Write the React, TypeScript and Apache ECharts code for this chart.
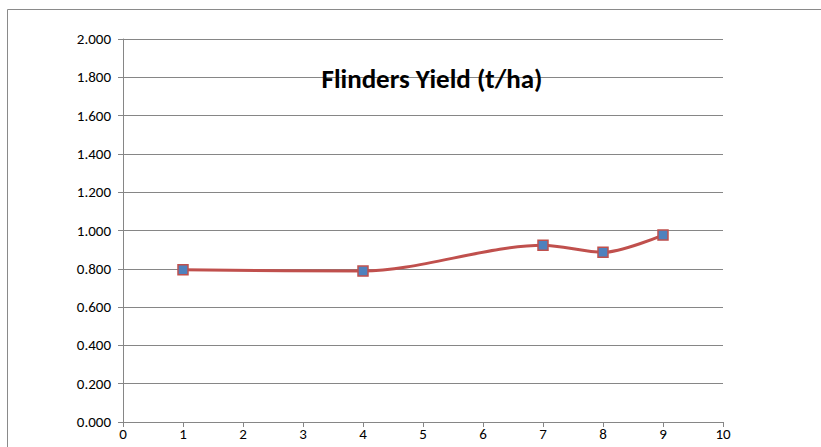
import React, { useEffect, useRef } from "react";
import * as echarts from "echarts";

const xValues = [1, 4, 7, 8, 9];
const yieldValues = [0.795, 0.788, 0.923, 0.886, 0.976];
const titleText = "Flinders Yield (t/ha)";

export default function App() {
  const ref = useRef<HTMLDivElement>(null);
  useEffect(() => {
    document.body.style.margin = "0";
    const chart = echarts.init(ref.current!, null, { renderer: "svg" });
    const font = "Carlito, 'Liberation Sans Narrow', 'Liberation Sans', sans-serif";
    chart.setOption({
      animation: false,
      backgroundColor: "#ffffff",
      title: {
        text: titleText,
        left: 427,
        top: 60,
        textAlign: "center",
        textStyle: { fontFamily: font, fontSize: 27, fontWeight: "bold", color: "#000" },
      },
      graphic: [
        {
          type: "rect",
          shape: { x: 7.5, y: 9.5, width: 900, height: 500 },
          style: { fill: "none", stroke: "#8a8a8a", lineWidth: 1 },
          silent: true,
        },
      ],
      grid: { left: 123, right: 98, top: 39, bottom: 25, containLabel: false },
      xAxis: {
        type: "value",
        min: 0,
        max: 10,
        interval: 1,
        axisLine: { show: true, lineStyle: { color: "#868686", width: 1 } },
        axisTick: { show: true, length: 5, lineStyle: { color: "#868686" } },
        axisLabel: { fontFamily: font, fontSize: 15, color: "#000", margin: 4 },
        splitLine: { show: false },
      },
      yAxis: {
        type: "value",
        min: 0,
        max: 2,
        interval: 0.2,
        axisLine: { show: true, lineStyle: { color: "#868686", width: 1 } },
        axisTick: { show: true, length: 5, lineStyle: { color: "#868686" } },
        axisLabel: {
          fontFamily: font,
          fontSize: 15,
          color: "#000",
          margin: 12,
          formatter: (v: number) => v.toFixed(3),
        },
        splitLine: { show: true, lineStyle: { color: "#868686", width: 1 } },
      },
      series: [
        {
          type: "line",
          data: xValues.map((x, i) => [x, yieldValues[i]]),
          smooth: 0.3,
          symbol: "rect",
          symbolSize: 10,
          lineStyle: { color: "#C0504D", width: 3 },
          itemStyle: { color: "#4F81BD", borderColor: "#C0504D", borderWidth: 1.5 },
        },
      ],
    });
    return () => chart.dispose();
  }, []);
  return <div ref={ref} style={{ width: 821, height: 447 }} />;
}
